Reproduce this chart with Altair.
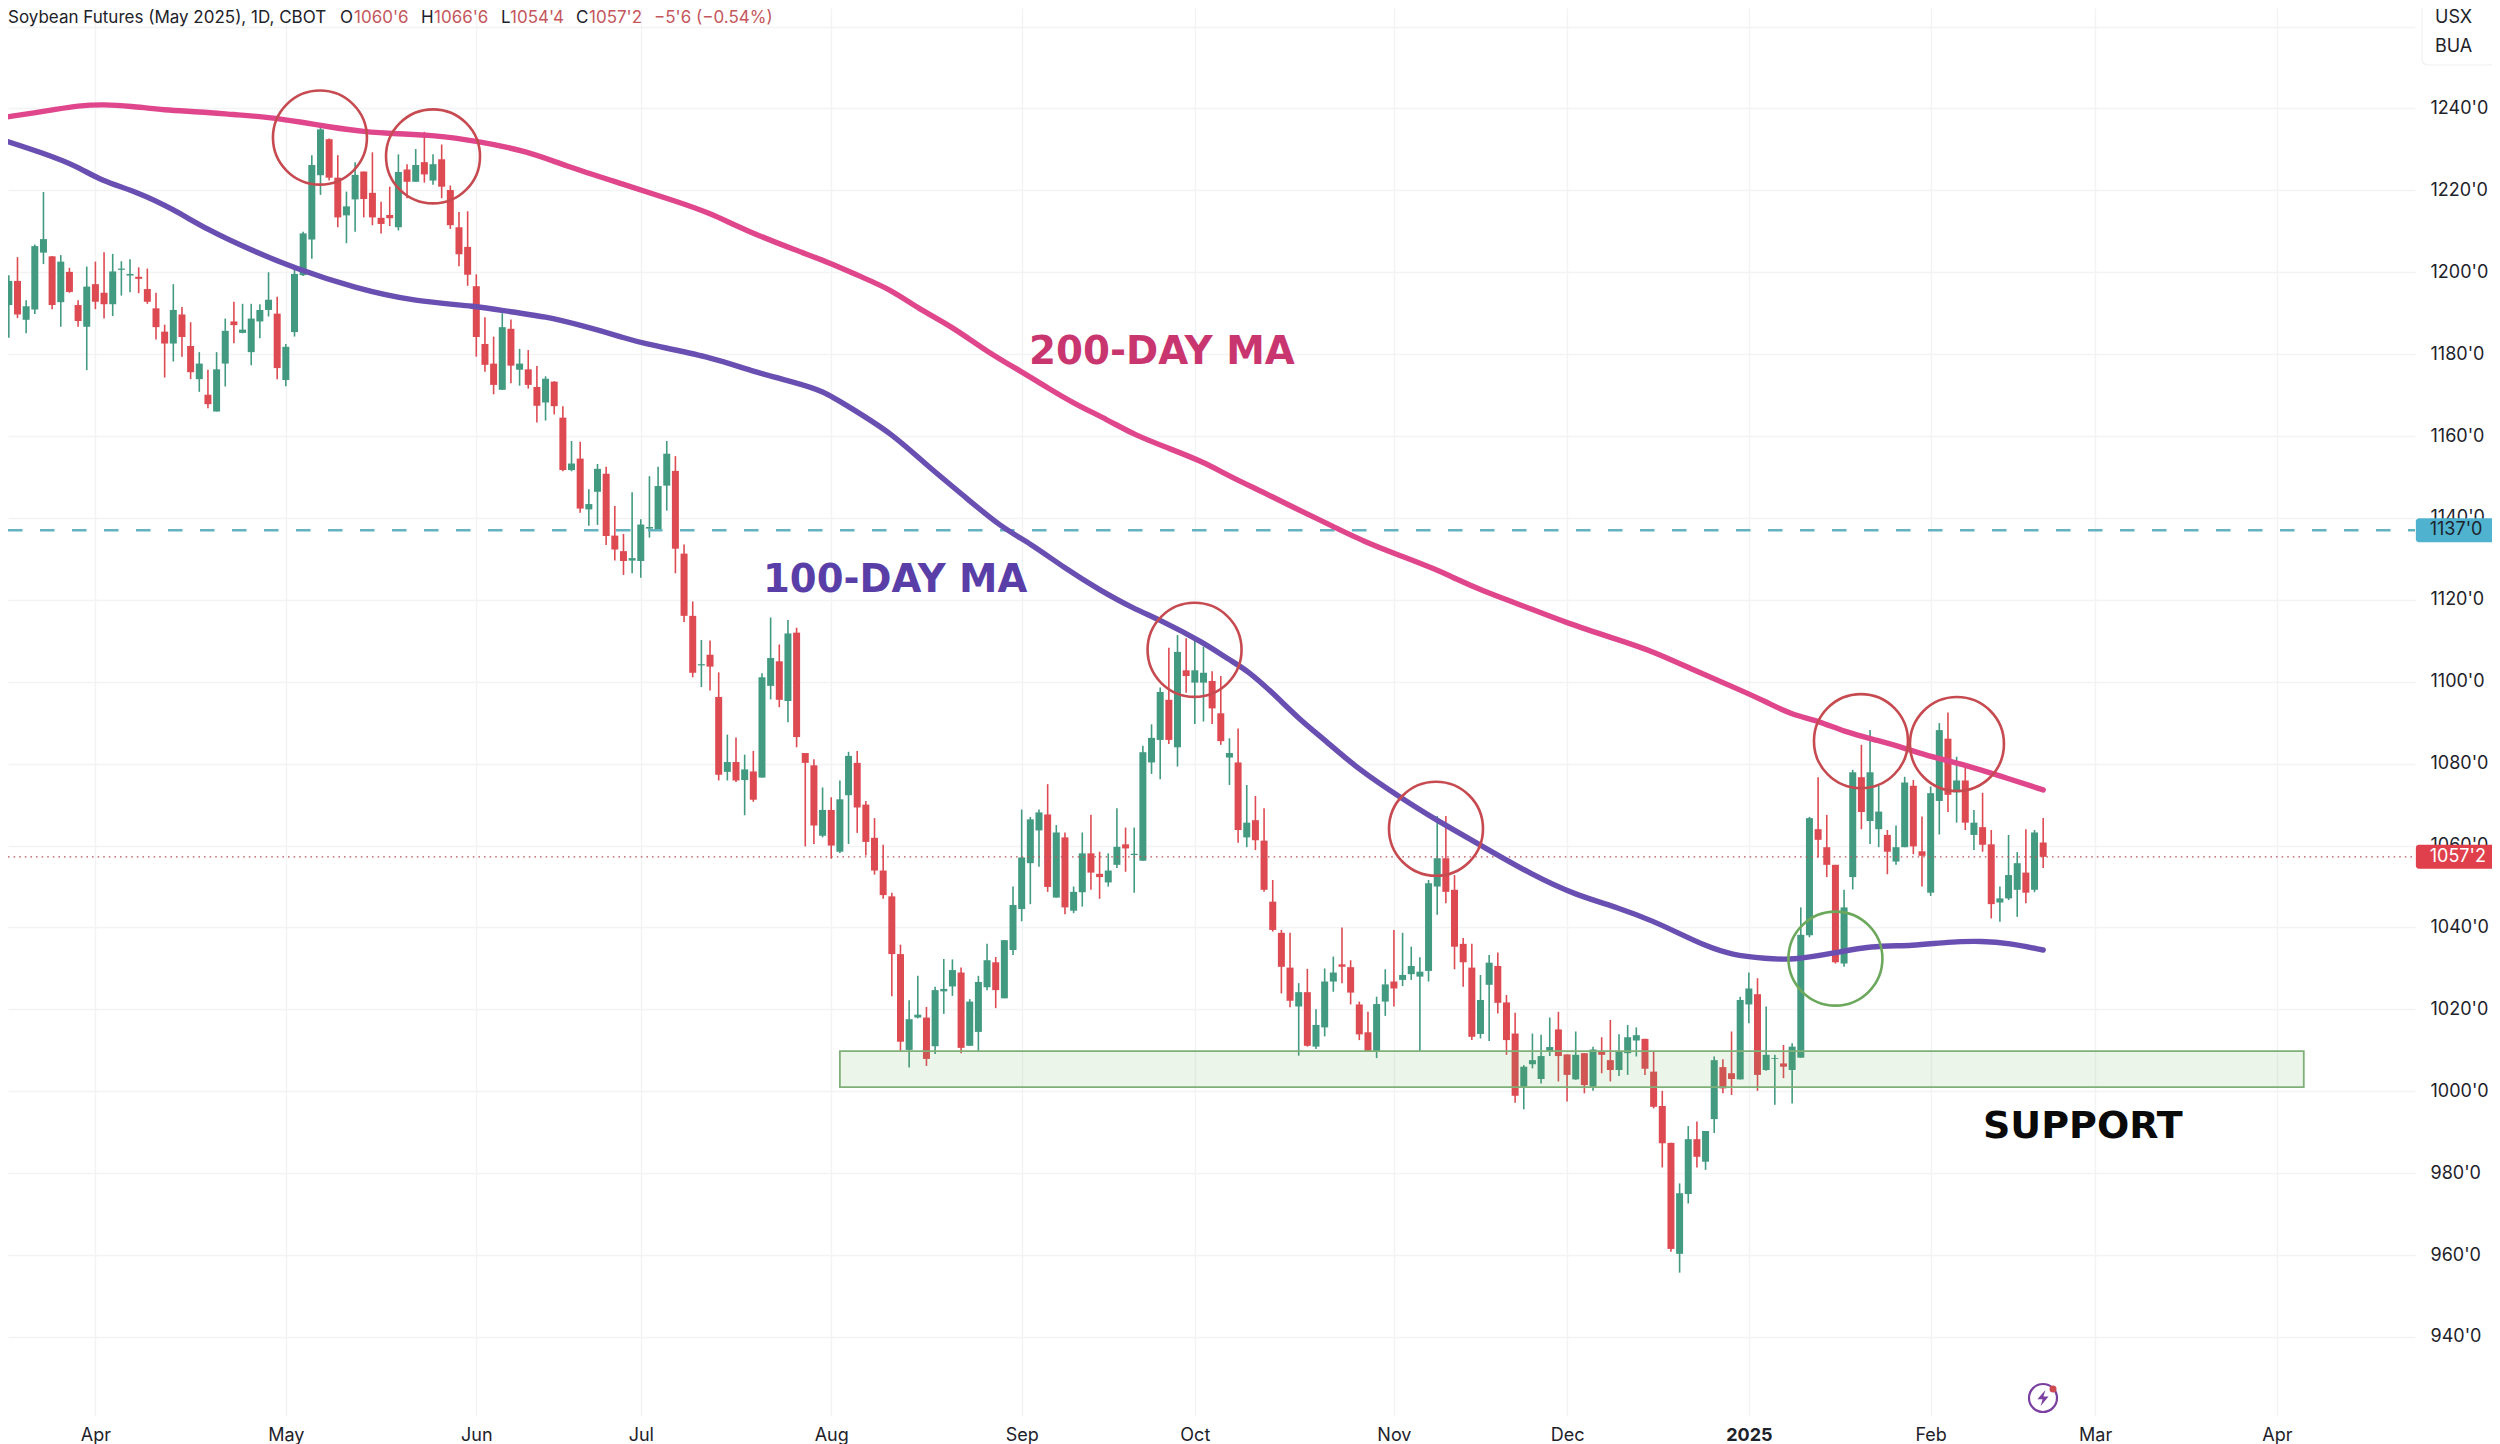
import altair as alt
import pandas as pd

# ---- candles (index 0 = 1 Apr 2024, first bar = -11) ----
first_bar = -11
directions = ("GGRGGGRGRR" "GRRGGGRRRR" "GRRGRGGRGG" "GGRGGGGGRR" "GGRRRRGRGR" "GRRRRRRRGR"
              "GRRGRRGRGG" "RRRGGGGGRR" "RGRRGRGRGG" "RGRRRGRGGR" "RRRRRGGRGG" "GRGGGRGGGG"
              "GRGRGGRRGG" "RGGGGRGRGG" "RRGRGRRRRR" "GRGGGRRRRG" "GRGGGGGRRR" "RGGRRRGGGG"
              "RRGRGRRGGG" "RRRRGGRGGR" "RGGRGGRGGG" "RRRGGRGGRG" "GRRGGRGRGR" "RGGGRGR")
highs = [
 1204.0,1199.3,1203.7,1193.2,1206.8,1219.6,1204.0,1204.2,1201.1,1193.2,
 1201.4,1202.6,1204.9,1204.5,1202.7,1203.2,1201.2,1200.9,1195.0,1187.2,
 1197.1,1191.5,1187.8,1180.5,1176.2,1180.5,1188.7,1192.8,1192.3,1192.3,
 1192.2,1200.0,1194.0,1182.5,1201.8,1209.9,1228.6,1236.4,1232.7,1228.6,
 1219.7,1226.9,1224.6,1229.3,1217.2,1220.9,1228.8,1226.4,1230.1,1234.3,
 1228.8,1231.2,1221.2,1214.7,1214.9,1199.5,1189.0,1184.3,1190.0,1188.5,
 1181.3,1181.0,1177.1,1174.6,1173.4,1167.3,1158.8,1158.6,1147.0,1153.2,
 1152.5,1142.9,1136.1,1146.3,1139.7,1150.2,1152.5,1158.8,1155.1,1133.5,
 1119.6,1110.2,1110.1,1102.3,1087.1,1086.4,1082.2,1083.1,1102.1,1115.7,
 1109.1,1115.1,1113.2,1082.6,1081.1,1074.2,1071.8,1075.9,1082.9,1083.1,
 1070.9,1066.7,1060.2,1048.5,1035.8,1022.2,1028.2,1020.6,1025.5,1032.3,
 1032.2,1030.2,1022.5,1028.2,1036.0,1032.8,1036.9,1050.0,1068.8,1067.0,
 1068.8,1075.0,1065.0,1063.2,1050.0,1063.2,1067.5,1058.5,1058.1,1069.1,
 1064.4,1064.4,1084.4,1089.6,1098.6,1108.3,1111.4,1110.6,1110.2,1108.6,
 1102.6,1101.4,1086.2,1088.6,1074.8,1072.1,1069.1,1051.6,1039.4,1038.7,
 1026.4,1029.9,1020.0,1030.0,1032.9,1040.0,1032.0,1021.9,1019.4,1023.1,
 1029.8,1039.4,1038.7,1035.3,1032.7,1051.6,1067.2,1067.2,1052.8,1037.4,
 1036.0,1028.4,1033.3,1033.9,1023.5,1019.2,1006.4,1014.1,1013.8,1018.0,
 1019.4,1009.0,1014.6,1009.3,1010.9,1013.2,1017.4,1013.9,1016.2,1015.6,
 1012.8,1009.7,1000.1,987.4,977.5,991.5,992.6,990.3,1008.5,1007.8,
 1014.6,1023.1,1029.0,1027.6,1020.7,1008.9,1011.3,1011.7,1044.9,1067.0,
 1076.7,1067.5,1055.3,1049.2,1078.5,1084.6,1088.2,1074.6,1063.8,1064.9,
 1076.8,1076.0,1067.1,1074.4,1089.9,1092.5,1081.7,1079.1,1068.7,1072.9,
 1063.8,1050.0,1062.6,1058.4,1064.0,1063.8,1066.75]
lows = [
 1191.2,1184.0,1188.8,1185.1,1189.8,1202.0,1191.0,1186.7,1195.0,1186.7,
 1176.1,1191.0,1188.7,1189.3,1194.3,1195.1,1194.9,1192.3,1183.6,1174.3,
 1178.2,1179.4,1173.9,1170.8,1166.8,1166.0,1172.1,1182.7,1185.1,1177.3,
 1183.9,1189.2,1173.9,1172.2,1184.3,1199.1,1203.3,1218.9,1222.4,1211.0,
 1207.1,1209.9,1213.4,1211.5,1209.5,1211.3,1210.2,1218.1,1222.1,1221.9,
 1221.4,1218.1,1210.6,1201.5,1196.7,1179.4,1175.7,1170.2,1171.3,1172.9,
 1172.3,1171.6,1163.3,1163.8,1165.3,1151.4,1151.4,1141.3,1138.1,1138.3,
 1133.4,1129.6,1126.1,1126.5,1125.4,1135.2,1137.0,1141.8,1126.5,1114.6,
 1101.1,1098.7,1097.9,1075.9,1075.9,1075.5,1067.4,1070.7,1076.6,1095.7,
 1093.8,1090.1,1084.0,1059.8,1060.4,1062.0,1056.8,1058.2,1060.4,1063.1,
 1057.6,1052.9,1047.0,1023.2,1009.7,1005.8,1017.8,1006.2,1009.1,1018.9,
 1023.3,1009.3,1011.1,1009.7,1024.7,1020.3,1022.7,1033.3,1041.5,1045.7,
 1054.8,1048.7,1047.3,1043.2,1043.5,1045.1,1049.2,1047.0,1050.0,1054.5,
 1053.6,1048.5,1056.3,1077.5,1076.2,1084.8,1079.3,1097.3,1089.7,1090.3,
 1089.7,1084.6,1074.8,1060.7,1059.6,1058.9,1048.7,1039.0,1023.9,1020.5,
 1008.7,1010.9,1010.3,1013.4,1024.3,1026.4,1021.2,1012.5,1009.7,1008.1,
 1018.4,1020.7,1025.7,1027.2,1009.8,1026.8,1043.1,1045.9,1029.8,1025.5,
 1012.5,1012.9,1012.3,1019.0,1008.9,997.2,995.6,1005.6,1001.9,1008.6,
 1002.4,997.5,1002.8,999.5,1000.1,1004.4,1002.4,1003.7,1004.0,1008.5,
 1004.0,995.8,981.4,960.8,955.7,972.6,981.4,980.8,989.8,999.5,
 999.1,1002.9,1016.6,1000.1,1005.0,996.7,1003.2,997.0,1008.2,1037.6,
 1057.1,1052.3,1031.2,1030.4,1049.3,1064.0,1060.4,1059.6,1053.0,1055.3,
 1059.6,1057.9,1050.0,1047.7,1062.7,1068.2,1065.6,1063.8,1058.9,1058.5,
 1042.2,1041.4,1046.7,1042.6,1045.9,1048.6,1054.5]
body_highs = [
 1194.7,1197.9,1197.9,1191.7,1206.4,1208.1,1203.9,1202.6,1200.1,1192.0,
 1196.5,1197.1,1195.0,1200.2,1200.9,1199.6,1198.9,1195.9,1191.2,1185.5,
 1190.8,1189.7,1182.0,1177.7,1170.1,1176.3,1185.7,1188.0,1186.0,1188.7,
 1190.8,1193.3,1189.9,1181.8,1199.6,1209.5,1226.2,1234.9,1232.5,1223.1,
 1216.1,1223.8,1224.6,1219.4,1213.3,1214.0,1224.5,1225.1,1226.2,1226.9,
 1226.4,1227.6,1220.1,1211.0,1206.2,1196.6,1182.5,1177.7,1186.6,1186.2,
 1177.7,1176.3,1172.0,1174.0,1173.3,1164.5,1153.3,1154.5,1143.4,1152.0,
 1150.8,1135.7,1131.9,1130.2,1138.4,1137.8,1147.8,1155.7,1151.5,1131.3,
 1116.1,1104.3,1106.6,1096.3,1080.4,1080.4,1078.6,1078.1,1101.1,1105.8,
 1105.0,1111.8,1112.0,1082.6,1079.6,1068.7,1068.7,1071.3,1081.9,1080.2,
 1070.0,1061.9,1053.9,1047.6,1033.5,1017.6,1018.7,1018.0,1024.7,1025.0,
 1029.6,1029.0,1021.9,1026.7,1032.0,1031.5,1036.9,1045.5,1057.1,1066.4,
 1068.1,1067.6,1063.2,1062.0,1048.7,1058.1,1058.1,1053.1,1053.9,1059.7,
 1060.3,1058.0,1082.8,1086.3,1097.5,1095.6,1107.3,1102.8,1102.8,1102.2,
 1100.2,1092.3,1082.6,1080.3,1065.6,1066.2,1061.2,1046.3,1038.7,1030.2,
 1024.2,1024.2,1016.2,1026.8,1029.0,1031.0,1030.3,1021.2,1014.4,1021.3,
 1026.1,1026.8,1028.4,1030.6,1029.2,1050.8,1056.9,1056.9,1049.2,1036.0,
 1030.2,1022.3,1031.4,1030.6,1021.7,1014.1,1006.0,1007.6,1008.6,1010.8,
 1015.1,1009.0,1008.9,1009.3,1010.2,1009.7,1007.6,1009.7,1013.2,1013.7,
 1012.8,1004.8,996.4,987.4,975.1,988.3,988.3,990.3,1007.6,1005.9,
 1004.4,1022.3,1025.1,1023.7,1008.9,1008.1,1006.8,1010.9,1038.2,1066.7,
 1064.0,1059.6,1055.3,1044.9,1077.9,1076.7,1077.9,1068.3,1062.6,1059.6,
 1075.4,1074.6,1058.6,1072.8,1088.2,1086.1,1075.9,1075.9,1065.6,1064.5,
 1060.3,1047.1,1052.8,1055.7,1053.4,1063.2,1060.75]
body_lows = [
 1192.8,1192.0,1189.7,1188.4,1190.9,1204.8,1192.0,1192.7,1195.2,1188.1,
 1186.7,1192.8,1192.2,1192.2,1200.6,1199.2,1198.4,1192.8,1186.6,1182.6,
 1182.6,1184.2,1175.6,1173.9,1167.8,1166.0,1177.7,1187.1,1185.2,1180.5,
 1188.0,1190.8,1176.6,1173.7,1185.4,1199.3,1208.0,1223.7,1223.1,1213.4,
 1213.9,1217.8,1217.9,1213.4,1211.8,1213.2,1211.0,1222.1,1222.1,1223.9,
 1222.4,1220.9,1211.5,1204.4,1199.4,1184.2,1177.4,1172.5,1171.3,1177.2,
 1176.2,1172.5,1167.4,1168.2,1167.3,1151.7,1151.7,1142.3,1142.1,1146.4,
 1135.6,1132.3,1129.5,1129.6,1129.5,1137.4,1137.0,1147.9,1132.5,1116.1,
 1102.2,1104.0,1103.7,1077.3,1078.0,1075.9,1076.0,1071.2,1076.6,1099.0,
 1095.6,1095.3,1086.5,1080.2,1064.9,1062.4,1060.0,1058.5,1072.3,1069.3,
 1060.9,1053.9,1047.9,1033.5,1012.1,1010.1,1018.0,1007.9,1011.0,1024.4,
 1025.6,1010.6,1011.1,1014.5,1025.4,1024.7,1022.7,1034.5,1044.5,1055.7,
 1063.7,1049.9,1047.3,1044.9,1044.1,1048.6,1053.4,1052.3,1051.0,1055.3,
 1059.3,1057.7,1056.3,1080.3,1085.8,1085.8,1084.0,1101.4,1099.8,1099.8,
 1093.5,1085.5,1081.5,1063.8,1062.0,1061.3,1049.2,1039.4,1030.4,1022.1,
 1020.7,1011.1,1010.9,1015.6,1026.8,1030.4,1024.1,1013.9,1009.8,1009.7,
 1021.9,1025.1,1027.2,1028.6,1028.0,1029.4,1050.0,1048.7,1035.3,1031.5,
 1013.3,1014.0,1026.0,1021.6,1012.5,998.9,1001.1,1006.6,1003.0,1009.7,
 1008.6,1004.0,1002.9,1001.5,1001.1,1008.9,1005.2,1005.2,1009.3,1012.4,
 1005.5,996.2,987.3,961.5,960.3,974.9,984.0,982.8,993.2,1000.7,
 1003.0,1002.9,1021.2,1004.0,1005.2,1007.9,1006.0,1005.2,1008.2,1038.1,
 1061.4,1055.3,1031.5,1031.2,1052.3,1068.2,1066.0,1064.0,1058.5,1056.1,
 1059.6,1059.8,1057.5,1048.5,1070.9,1072.4,1073.0,1065.6,1062.6,1060.2,
 1045.7,1046.1,1047.1,1049.2,1048.5,1049.2,1057.25]

# ---- moving averages ----
ma200_bar = [-11,-5,-2,1,4,8,12,16,20,24,27,31,35,39,44,50,54,61,67,71,75,81,85,88,92,95,99,103,107,110,113,117,120,124,128,131,135,138,143,147,151,155,157,160,165,170,176,180,185,190,193,196,199,202,206,209,212,216,220,225]
ma200_val = [1237.7,1239.6,1240.7,1241.0,1240.6,1239.6,1239.2,1238.5,1237.9,1236.6,1235.5,1234.3,1233.8,1233.5,1232.1,1229.5,1226.2,1221.5,1217.4,1214.5,1210.3,1205.3,1202.2,1199.3,1195.7,1191.2,1186.7,1180.6,1175.7,1171.8,1168.0,1163.9,1160.3,1157.0,1153.7,1150.2,1146.2,1143.0,1137.9,1133.8,1130.6,1127.3,1125.3,1122.4,1118.5,1114.3,1110.2,1107.4,1102.5,1098.0,1095.1,1091.9,1090.5,1087.8,1085.6,1083.8,1081.7,1079.7,1077.0,1073.6]
ma100_bar = [-11,-6,-2,0.5,5,9,13,18,23,30,37,44,48,52,56,61,63,71,76,81,84,87,92,96,100,104.5,108,112,116,120,123,128,131,133,136,139,142,146,151,154.5,160,166,171,176,180,183,186,189,193,196,201,205,210,214,218,221,225]
ma100_val = [1232.5,1229.1,1225.8,1222.5,1219.5,1215.4,1210.3,1205.4,1201.0,1196.1,1192.8,1191.8,1190.3,1189.2,1187.1,1184.1,1182.7,1179.4,1175.7,1173.0,1171.1,1167.2,1160.7,1152.9,1146.0,1137.9,1133.8,1127.7,1122.4,1117.8,1115.1,1109.6,1105.3,1102.9,1097.3,1091.0,1085.8,1078.4,1071.4,1066.7,1060.1,1052.8,1047.9,1044.8,1041.5,1038.5,1035.5,1033.3,1032.4,1032.0,1033.8,1035.5,1035.5,1036.5,1036.7,1036.2,1034.5]

# ---- annotations ----
circle_bar = [25.94,39.0,126.97,154.86,203.95,215.04]
circle_val = [1232.9,1228.3,1107.8,1064.1,1085.5,1084.8]
green_bar = [201.0]
green_val = [1032.4]
resistance = 1137.0
last_close = 1057.25
support_low, support_high = 1001.0, 1009.8
support_from, support_to = 86.0, 255.1

month_bars = [0,22,44,63,85,107,127,150,170,191,212,231,252]
month_names = ["Apr","May","Jun","Jul","Aug","Sep","Oct","Nov","Dec","2025","Feb","Mar","Apr"]
price_ticks = list(range(940,1261,20))

UP, DOWN = "#429a80", "#de4a52"
X_DOM = [-10.096, 267.95]
Y_DOM = [920.7, 1264.54]
FONT = "Inter"
TEXT = "#1e222a"

bars = pd.DataFrame({"i": range(first_bar, first_bar+len(highs)), "high": highs, "low": lows,
                     "top": body_highs, "bottom": body_lows, "d": list(directions)})
xs = alt.Scale(domain=X_DOM, nice=False, zero=False)
ys = alt.Scale(domain=Y_DOM, nice=False, zero=False)
color = alt.Color("d:N", scale=alt.Scale(domain=["G","R"], range=[UP,DOWN]), legend=None)

label_map = "{" + ",".join(f"'{b}':'{n}'" for b, n in zip(month_bars, month_names)) + "}"
x_axis = alt.Axis(values=month_bars, labelExpr=f"{label_map}[''+datum.value]",
        grid=True, gridColor="#f2f3f5", gridWidth=1.4, ticks=False, domain=False, labelFont=FONT, labelFontSize=18,
        labelColor=TEXT, labelPadding=10, labelFlush=False, labelOverlap=False, title=None,
        labelFontWeight=alt.condition("datum.value == 191", alt.value("bold"), alt.value("normal")))
y_axis = alt.Axis(orient="right", values=price_ticks,
        labelExpr="datum.value == 1260 ? '' : datum.value + \"'0\"", grid=True, gridColor="#f2f3f5", gridWidth=1.4,
        ticks=False, domain=False, labelFont=FONT, labelFontSize=18, labelColor=TEXT, labelPadding=15,
        labelOverlap=False, labelFlush=False, title=None)
X = lambda f="i": alt.X(f"{f}:Q", scale=xs, axis=x_axis)
Y = lambda f: alt.Y(f"{f}:Q", scale=ys, axis=y_axis)

wicks = alt.Chart(bars).mark_rule(strokeWidth=1.6).encode(x=X(), y=Y("high"), y2="low:Q", color=color)
bodies = alt.Chart(bars).mark_rule(strokeWidth=7, strokeCap="butt").encode(x=X(), y=Y("top"), y2="bottom:Q", color=color)

def hline(value, col, width, dash):
    df = pd.DataFrame({"i":[X_DOM[0], X_DOM[1]], "v":[value, value]})
    return alt.Chart(df).mark_line(color=col, strokeWidth=width, strokeDash=dash).encode(x=X(), y=Y("v"))
res_line = hline(resistance, "#62b2c0", 2.4, [14.5, 17.5])
last_line = hline(last_close, "#b5555c", 1.4, [1.6, 4])

def ma(b, v, col):
    df = pd.DataFrame({"i": b, "v": v})
    return alt.Chart(df).mark_line(color=col, strokeWidth=5.4, strokeCap="round", interpolate="basis").encode(x=X(), y=Y("v"))
ma200 = ma(ma200_bar, ma200_val, "#e0468c")
ma100 = ma(ma100_bar, ma100_val, "#6a4fb2")

def rings(b, v, col):
    df = pd.DataFrame({"i": b, "v": v})
    return alt.Chart(df).mark_point(shape="circle", filled=False, size=8836, stroke=col, strokeWidth=2.6, opacity=1).encode(x=X(), y=Y("v"))
red_rings = rings(circle_bar, circle_val, "#c64a50")
green_ring = rings(green_bar, green_val, "#6ca85c")

support = alt.Chart(pd.DataFrame({"a":[support_from],"b":[support_to],"l":[support_low],"h":[support_high]})).mark_rect(
    fill="#62ae55", fillOpacity=0.12, stroke="#7fb077", strokeWidth=1.8).encode(x=X("a"), x2="b:Q", y=Y("l"), y2="h:Q")

def note(text, x, y, color=TEXT, size=18, weight="normal", font=FONT, align="left"):
    return alt.Chart(alt.Data(values=[{}])).mark_text(font=font, fontSize=size, fontWeight=weight, color=color, align=align, baseline="middle").encode(
        x=alt.value(x-8), y=alt.value(y-8), text=alt.value(text))

def badge(value, fill, label, col):
    df = pd.DataFrame({"a":[268.05],"b":[277.3],"l":[value-2.93],"h":[value+2.93],"t":[269.65],"v":[value],"s":[label]})
    rect = alt.Chart(df).mark_rect(fill=fill, cornerRadius=3).encode(x=X("a"), x2="b:Q", y=Y("l"), y2="h:Q")
    txt = alt.Chart(df).mark_text(font=FONT, fontSize=18, color=col, align="left", baseline="middle").encode(x=X("t"), y=Y("v"), text="s:N")
    return rect + txt

box = alt.Chart(alt.Data(values=[{}])).mark_rect(fill="#ffffff", stroke="#f0f0f0", strokeWidth=1.2, cornerRadius=6).encode(
    x=alt.value(2414), x2=alt.value(2488), y=alt.value(-8), y2=alt.value(57))

RED_TXT = "#c4565d"
HY, HS = 18, 17
header = [note("Soybean Futures (May 2025), 1D, CBOT", 8, HY, size=HS), note("O", 340, HY, size=HS), note("1060'6", 354, HY, RED_TXT, HS),
          note("H", 421, HY, size=HS), note("1066'6", 434, HY, RED_TXT, HS), note("L", 501, HY, size=HS), note("1054'4", 510, HY, RED_TXT, HS),
          note("C", 576, HY, size=HS), note("1057'2", 589, HY, RED_TXT, HS), note("\u22125'6 (\u22120.54%)", 654, HY, RED_TXT, HS)]

def icon_mark(x, y, **kw):
    return alt.Chart(alt.Data(values=[{}])).mark_point(**kw).encode(x=alt.value(x-8), y=alt.value(y-8))
icon = (icon_mark(2043, 1398, shape="circle", filled=False, size=784, stroke="#7b3fa0", strokeWidth=2.2, opacity=1)
        + icon_mark(2043, 1398, shape="M0.3,-1 L-0.7,0.15 L-0.05,0.15 L-0.3,1 L0.7,-0.2 L0.05,-0.2 Z", filled=True, size=256, fill="#7b3fa0", opacity=1)
        + icon_mark(2053, 1389, shape="circle", filled=True, size=49, fill="#cf4a50", opacity=1))

chart = alt.layer(wicks, bodies, res_line, last_line, ma200, ma100, red_rings, green_ring, support,
    note("200-DAY MA", 1029, 352, "#c9366f", 38.8, "bold", "DejaVu Sans"),
    note("100-DAY MA", 763, 580, "#5a3ea8", 38.6, "bold", "DejaVu Sans"),
    note("SUPPORT", 1983, 1127, "#0a0a0a", 38, "bold", "DejaVu Sans"),
    *header, box, note("USX", 2435, 18), note("BUA", 2435, 47),
    badge(resistance, "#4fb3cf", "1137'0", TEXT), badge(last_close, "#e0404c", "1057'2", "#ffffff"),
    icon
).properties(width=2407, height=1408, padding={"left":0,"top":0,"right":77,"bottom":28},
             autosize=alt.AutoSizeParams(type="none")
).configure_view(stroke=None)

chart.save("out.html", embed_options={"renderer": "svg", "actions": False})
